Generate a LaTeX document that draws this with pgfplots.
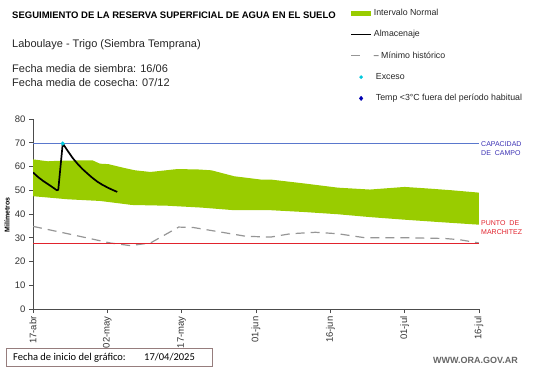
\documentclass[border=0pt]{standalone}
\usepackage{pgfplots}
\pgfplotsset{compat=1.18}
\usepackage{fontspec}
\setmainfont{Liberation Sans}
\newfontfamily\calibri{Carlito}
\definecolor{bandgreen}{RGB}{153,204,0}
\definecolor{capcol}{RGB}{90,120,205}
\definecolor{captxt}{RGB}{60,50,180}
\definecolor{marcol}{RGB}{225,35,45}
\definecolor{mintxt}{RGB}{150,150,150}
\definecolor{excol}{RGB}{0,200,220}
\definecolor{boxcol}{RGB}{150,125,125}
\begin{document}
\begin{tikzpicture}[x=1pt,y=1pt]
\path[use as bounding box] (0,0) rectangle (541,368);
\begin{axis}[
  at={(33pt,59pt)}, anchor=south west,
  scale only axis, width=446pt, height=190pt,
  xmin=0, xmax=90, ymin=0, ymax=80,
  axis x line*=bottom, axis y line*=left,
  axis line style={-, black!70, line width=0.9pt},
  xtick={0,15,...,90},
  xticklabels={17-abr,02-may,17-may,01-jun,16-jun,01-jul,16-jul},
  ytick={0,10,...,80},
  tick align=outside, major tick length=4pt,
  tick style={black!70, line width=0.8pt},
  /pgf/number format/assume math mode=true,
  x tick label style={rotate=90, anchor=east, font=\fontsize{9.5}{10}\selectfont, text=black!80},
  y tick label style={font=\fontsize{9.5}{10}\selectfont, text=black!80},
  legend style={at={(axis description cs:0.711,1.59)}, anchor=north west,
    draw=none, fill=none, font=\fontsize{8.8}{10}\selectfont,
    row sep=9.5pt, inner sep=0pt, text=black!85},
  legend cell align=left,
]
% Intervalo normal (upper then lower reversed)
\addplot[fill=bandgreen, draw=none,
  legend image code/.code={\fill[bandgreen] (0pt,-2.5pt) rectangle (20pt,2.5pt);}]
 coordinates {
 (0,63.0) (3,62.2) (5,62.4) (10,62.6) (12,62.6) (13.5,61.2) (15.2,61.0) (18.6,59.3) (20.6,58.4)
 (23.7,57.7) (29,58.9) (33,58.8) (36,58.4) (40.6,55.9) (46,54.5) (48,54.5) (55,52.8)
 (61.5,51.1) (68,50.3) (75,51.4) (80,50.7) (84.5,50.0) (90,49.0)
 (90,35.5) (82,36.6) (75,37.6) (68,38.7) (61.5,39.9) (55,40.8) (48,41.6) (40.6,41.6)
 (34,42.7) (27,43.5) (20,43.8) (13.5,45.5) (7,46.2) (0,47.5)
 } -- cycle;
\addlegendentry{Intervalo Normal}
% Almacenaje
\addplot[draw=black, line width=1.7pt, line join=round,
  legend image code/.code={\draw[black, line width=1.6pt] (0pt,0pt) -- (20pt,0pt);}] coordinates {
 (0,57.5) (1,55.6) (2,54.0) (3,52.6) (4,51.2) (4.8,50.0) (5.1,50.2) (6.0,69.7)
 (7,66.6) (8,63.6) (9,61.1) (10,58.9) (11,57.0) (12,55.2) (13,53.6) (14,52.3)
 (15,51.2) (16,50.2) (17,49.3)
};
\addlegendentry{Almacenaje}
% Minimo historico
\addplot[draw=mintxt, line width=1.2pt, dash pattern=on 9pt off 6pt,
  legend image code/.code={\draw[mintxt, line width=1.2pt] (0pt,0pt) -- (11pt,0pt);}] coordinates {
 (0,34.8) (7,31.7) (15.6,27.8) (19.6,26.7) (23.7,27.8) (29.4,34.5) (32.4,34.3)
 (43,30.6) (48,30.3) (52,31.7) (57,32.3) (61.5,31.7) (67,30.0) (75,30.0)
 (83,29.7) (86,29.2) (90,27.8)
};
\addlegendentry{-- Mínimo histórico}
% Capacidad de campo / punto de marchitez
\addplot[draw=capcol, line width=1.3pt, forget plot] coordinates {(0,69.7) (90,69.7)};
\addplot[draw=marcol, line width=1.3pt, forget plot] coordinates {(0,27.7) (90,27.7)};
% Exceso
\addplot[only marks, mark=*, mark size=1.8pt, color=excol,
  legend image code/.code={\fill[excol] (10pt,0pt) circle (1.6pt);}] coordinates {(6.0,69.7)};
\addlegendentry{\hspace{2pt}Exceso}
\addlegendimage{legend image code/.code={\fill[blue!70!black] (10pt,0pt) +(0,2.2pt) -- +(1.8pt,0) -- +(0,-2.2pt) -- +(-1.8pt,0) -- cycle;}}
\addlegendentry{\hspace{2pt}Temp <3°C fuera del período habitual}
\end{axis}
% texts
\node[anchor=west, inner sep=0pt, font=\bfseries\fontsize{9.5}{11}\selectfont] at (12,353) {SEGUIMIENTO DE LA RESERVA SUPERFICIAL DE AGUA EN EL SUELO};
\node[anchor=west, inner sep=0pt, font=\fontsize{11}{13}\selectfont, text=black!85] at (12,323) {Laboulaye - Trigo (Siembra Temprana)};
\node[anchor=west, inner sep=0pt, font=\fontsize{11}{13}\selectfont, text=black!85] at (12,299) {Fecha media de siembra: 16/06};
\node[anchor=west, inner sep=0pt, font=\fontsize{11}{13}\selectfont, text=black!85] at (12,285) {Fecha media de cosecha: 07/12};
\node[anchor=center, rotate=90, inner sep=0pt, font=\bfseries\fontsize{7}{8}\selectfont] at (7,153) {Milímetros};
\node[anchor=north west, inner sep=0pt, align=left, text=captxt, font=\fontsize{7}{9.5}\selectfont] at (481,227) {CAPACIDAD\\DE\ \ CAMPO};
\node[anchor=north west, inner sep=0pt, align=left, text=marcol, font=\fontsize{7}{9.5}\selectfont] at (481,148) {PUNTO\ \ DE\\MARCHITEZ};
\draw[boxcol, line width=0.8pt] (6,1.5) rectangle (212,20);
\node[anchor=west, inner sep=0pt, font=\calibri\fontsize{10.5}{12}\selectfont] at (13,10.5) {Fecha de inicio del gráfico:};
\node[anchor=west, inner sep=0pt, font=\calibri\fontsize{10.5}{12}\selectfont] at (144,10.5) {17/04/2025};
\node[anchor=east, inner sep=0pt, font=\bfseries\fontsize{9}{10}\selectfont, text=black!60] at (518,8) {WWW.ORA.GOV.AR};
\end{tikzpicture}
\end{document}
